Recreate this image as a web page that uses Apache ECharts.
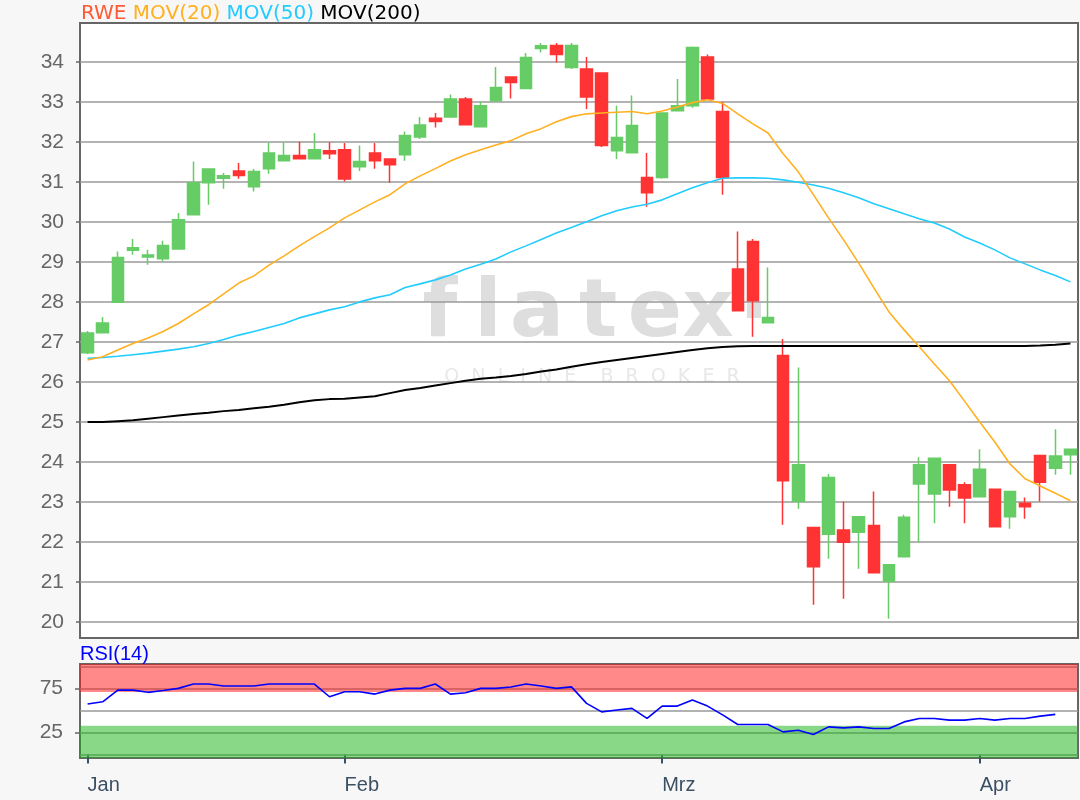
<!DOCTYPE html>
<html><head><meta charset="utf-8">
<script src="https://cdn.jsdelivr.net/npm/echarts@6.0.0/dist/echarts.min.js"></script>
<style>html,body{margin:0;padding:0;background:#f7f7f7}#c{width:1080px;height:800px}</style>
</head><body><div id="c"></div><script>
const dates = [
 '2020-01-09','2020-01-10','2020-01-13','2020-01-14','2020-01-15','2020-01-16','2020-01-17','2020-01-20','2020-01-21','2020-01-22','2020-01-23','2020-01-24','2020-01-27','2020-01-28','2020-01-29','2020-01-30','2020-01-31',
 '2020-02-03','2020-02-04','2020-02-05','2020-02-06','2020-02-07','2020-02-10','2020-02-11','2020-02-12','2020-02-13','2020-02-14','2020-02-17','2020-02-18','2020-02-19','2020-02-20','2020-02-21','2020-02-24','2020-02-25','2020-02-26','2020-02-27','2020-02-28',
 '2020-03-02','2020-03-03','2020-03-04','2020-03-05','2020-03-06','2020-03-09','2020-03-10','2020-03-11','2020-03-12','2020-03-13','2020-03-16','2020-03-17','2020-03-18','2020-03-19','2020-03-20','2020-03-23','2020-03-24','2020-03-25','2020-03-26','2020-03-27','2020-03-30','2020-03-31',
 '2020-04-01','2020-04-02','2020-04-03','2020-04-06','2020-04-07','2020-04-08','2020-04-09'];
const openP  = [26.73,27.23,27.99,29.29,29.12,29.08,29.32,30.18,30.98,31.09,31.27,30.88,31.33,31.53,31.66,31.58,31.78,31.80,31.38,31.72,31.57,31.68,32.12,32.59,32.62,33.07,32.38,33.03,33.62,33.33,34.33,34.41,33.86,33.82,33.72,31.78,31.73,31.11,31.11,32.78,32.90,34.12,32.76,28.82,29.51,27.48,26.66,23.02,22.36,22.19,22.30,22.24,22.41,21.02,21.63,23.45,23.20,23.93,23.43,23.13,23.32,22.63,22.97,24.16,23.84,24.18];
const closeP = [27.22,27.47,29.11,29.35,29.17,29.41,30.05,30.98,31.32,31.15,31.16,31.26,31.72,31.66,31.58,31.80,31.70,31.07,31.51,31.53,31.43,32.16,32.42,32.51,33.07,32.43,32.90,33.36,33.48,34.11,34.40,34.18,34.41,33.12,31.91,32.11,32.41,30.73,32.72,32.90,34.36,33.07,31.11,27.78,28.03,27.61,23.53,23.93,21.38,23.61,21.99,22.63,21.23,21.43,22.62,23.93,24.09,23.30,23.10,23.82,22.38,23.26,22.88,23.49,24.15,24.32];
const lowP   = [26.70,27.23,27.99,29.18,28.93,29.01,29.32,30.18,30.43,30.83,31.08,30.76,31.20,31.53,31.58,31.58,31.57,31.01,31.27,31.33,30.98,31.53,32.07,32.36,32.62,32.43,32.38,33.03,33.08,33.33,34.23,33.98,33.82,32.82,31.87,31.57,31.73,30.38,31.08,32.78,32.85,33.07,30.68,27.78,27.13,27.48,22.43,22.83,20.43,21.58,20.58,21.33,21.23,20.08,21.63,21.99,22.47,22.88,22.47,23.13,22.38,22.33,22.58,23.01,23.68,23.68];
const highP  = [27.27,27.62,29.26,29.57,29.30,29.53,30.22,31.51,31.33,31.22,31.47,31.32,31.99,31.99,32.00,32.22,31.99,31.97,31.91,31.97,31.58,32.26,32.62,32.72,33.18,33.12,33.01,33.87,33.62,34.22,34.47,34.47,34.47,34.12,33.74,32.90,33.16,31.72,32.74,33.57,34.38,34.18,33.00,29.76,29.57,28.86,27.07,26.36,22.36,23.70,23.01,22.63,23.26,21.43,22.68,24.12,24.10,23.93,23.49,24.32,23.32,23.26,23.11,24.16,24.82,24.33];
const mov20  = [26.55,26.63,26.80,26.96,27.10,27.26,27.46,27.70,27.93,28.20,28.47,28.65,28.92,29.15,29.40,29.63,29.85,30.10,30.30,30.50,30.68,30.95,31.15,31.33,31.52,31.68,31.80,31.92,32.03,32.20,32.33,32.50,32.63,32.70,32.72,32.74,32.76,32.70,32.77,32.87,32.98,33.05,32.96,32.70,32.45,32.22,31.70,31.25,30.68,30.10,29.55,28.97,28.35,27.75,27.30,26.88,26.45,26.03,25.52,25.00,24.50,23.95,23.58,23.40,23.22,23.03];
const mov50  = [26.59,26.61,26.64,26.68,26.72,26.77,26.82,26.88,26.96,27.06,27.17,27.26,27.36,27.46,27.60,27.70,27.80,27.88,28.00,28.10,28.18,28.36,28.45,28.55,28.67,28.82,28.94,29.07,29.25,29.40,29.56,29.72,29.86,30.00,30.15,30.28,30.37,30.44,30.55,30.70,30.85,30.98,31.09,31.10,31.10,31.09,31.05,30.99,30.92,30.84,30.73,30.60,30.45,30.33,30.20,30.08,29.97,29.82,29.62,29.47,29.30,29.10,28.95,28.80,28.66,28.50];
const mov200 = [25.00,25.00,25.02,25.04,25.08,25.12,25.16,25.20,25.23,25.27,25.30,25.34,25.38,25.43,25.49,25.54,25.57,25.58,25.61,25.64,25.72,25.80,25.85,25.91,25.97,26.03,26.08,26.11,26.15,26.20,26.26,26.31,26.38,26.44,26.50,26.55,26.60,26.65,26.70,26.75,26.80,26.84,26.87,26.89,26.90,26.90,26.90,26.90,26.90,26.90,26.90,26.90,26.90,26.90,26.90,26.90,26.90,26.90,26.90,26.90,26.90,26.90,26.90,26.91,26.93,26.96];
const rsi14  = [57.2,59.8,73,73,70.5,72.5,75,79.9,79.9,77.6,77.6,77.6,79.9,79.9,79.9,79.9,65.5,71.1,71.1,68.5,73,75,75,79.9,68.5,70,75,75,76.5,79.9,77.6,75,76.7,58,48.4,50.5,52.3,40.9,54.9,54.9,61.7,54.9,45,34.1,34.1,34.1,25.7,27.6,22.7,31.4,30.2,31.4,29.5,29.5,37,40.9,40.9,39,39,40.9,39,40.9,40.9,43.5,45.5];
const priceTicks = [20,21,22,23,24,25,26,27,28,29,30,31,32,33,34];
const rsiTicks = [25,75];
const rsiLines = [0,25,50,75,100];
const rsiOverbought = [71,102.6];
const rsiOversold = [-3.9,32.5];
const monthTickIdx = [0,17,38,59];
const monthLabels = ['Jan','Feb','Mrz','Apr'];
const watermarkLetters = ['f','l','a','t','e','x','.'];

const FONT = '"Liberation Sans", Arial, sans-serif';
const LFONT = '"DejaVu Sans", Verdana, sans-serif';
const chart = echarts.init(document.getElementById('c'), null, {renderer:'canvas'});
const ohlc = dates.map((d,i)=>[openP[i], closeP[i], lowP[i], highP[i]]);

// decorative watermark letter placement
const wmX = [440, 488, 537, 598, 655, 708, 754];
const wmY = [315, 315, 315, 315, 315, 315, 297];
const graphics = watermarkLetters.map((ch,i)=>({type:'text', z:1, silent:true,
  style:{text:ch, x:wmX[i], y:wmY[i], font:'bold 80px "DejaVu Sans"', fill:'#dedede', align:'center', verticalAlign:'middle'}}));
graphics.push({type:'text', z:1, silent:true, style:{text:'O  N  L  I  N  E    B  R  O  K  E  R', x:592, y:377, font:'19px "DejaVu Sans"', fill:'#e8e8e8', align:'center', verticalAlign:'middle'}});

const option = {
  animation:false,
  backgroundColor:'#f7f7f7',
  textStyle:{fontFamily:FONT},
  title:[
    {left:81, top:4, padding:0, text:'{r|RWE} {o|MOV(20)} {c|MOV(50)} {k|MOV(200)}',
     textStyle:{fontSize:20, fontWeight:'normal', fontFamily:LFONT,
       rich:{r:{color:'#ff5a36',fontSize:20,fontFamily:LFONT}, o:{color:'#ffb020',fontSize:20,fontFamily:LFONT},
             c:{color:'#22ccff',fontSize:20,fontFamily:LFONT}, k:{color:'#000',fontSize:20,fontFamily:LFONT}}}},
    {left:80, top:644, padding:0, text:'RSI(14)', textStyle:{fontSize:20, fontWeight:'normal', color:'#0000ff', fontFamily:FONT}}
  ],
  graphic:graphics,
  grid:[
    {left:80,right:2,top:23,bottom:162, show:true, backgroundColor:'#ffffff', borderColor:'#666', borderWidth:2},
    {left:80,right:2,top:664,bottom:42, show:true, backgroundColor:'#ffffff', borderColor:'#666', borderWidth:2}
  ],
  xAxis:[
    {type:'category', gridIndex:0, data:dates, boundaryGap:true, axisLine:{show:false}, axisTick:{show:false}, axisLabel:{show:false}, splitLine:{show:false}},
    {type:'category', gridIndex:1, data:dates, boundaryGap:true, axisLine:{show:false},
     axisTick:{show:true, alignWithLabel:true, interval:(i)=>monthTickIdx.includes(i), length:9, lineStyle:{color:'#3c5064', width:2}},
     axisLabel:{interval:(i)=>monthTickIdx.includes(i), formatter:(v,i)=>monthLabels[monthTickIdx.indexOf(i)] || '', align:'left', margin:17, fontSize:20, color:'#3c5064', fontFamily:FONT},
     splitLine:{show:false}}
  ],
  yAxis:[
    {type:'value', gridIndex:0, min:19.6, max:34.97, axisLine:{show:false},
     axisTick:{show:true, length:4, customValues:priceTicks, lineStyle:{color:'#666', width:1.5}},
     axisLabel:{customValues:priceTicks, fontSize:21, color:'#666', margin:16, fontFamily:FONT},
     splitLine:{show:false}},
    {type:'value', gridIndex:1, min:-3.9, max:102.6, axisLine:{show:false},
     axisTick:{show:true, length:5, customValues:rsiTicks, lineStyle:{color:'#666', width:1.5}},
     axisLabel:{customValues:rsiTicks, fontSize:21, color:'#666', margin:17, fontFamily:FONT},
     splitLine:{show:false}}
  ],
  series:[
    {type:'candlestick', name:'RWE', xAxisIndex:0, yAxisIndex:0, data:ohlc, barWidth:12, z:3,
     itemStyle:{color:'#66cc66', color0:'#ff3333', borderColor:'#66cc66', borderColor0:'#ff3333', borderWidth:1.5},
     markLine:{silent:true, z:2, symbol:['none','none'], label:{show:false}, animation:false,
       lineStyle:{color:'#9a9a9a', width:1.5, type:'solid'}, emphasis:{disabled:true},
       data:priceTicks.map(v=>({yAxis:v}))}},
    {type:'line', name:'MOV(200)', xAxisIndex:0, yAxisIndex:0, data:mov200, showSymbol:false, z:4, lineStyle:{color:'#000', width:2}, itemStyle:{color:'#000'}},
    {type:'line', name:'MOV(50)', xAxisIndex:0, yAxisIndex:0, data:mov50, showSymbol:false, z:4, lineStyle:{color:'#22ccff', width:1.6}, itemStyle:{color:'#22ccff'}},
    {type:'line', name:'MOV(20)', xAxisIndex:0, yAxisIndex:0, data:mov20, showSymbol:false, z:4, lineStyle:{color:'#ffb020', width:1.6}, itemStyle:{color:'#ffb020'}},
    {type:'line', name:'RSI(14)', xAxisIndex:1, yAxisIndex:1, data:rsi14, showSymbol:false, z:5, lineStyle:{color:'#0000ff', width:1.6}, itemStyle:{color:'#0000ff'},
     markLine:{silent:true, z:1, symbol:['none','none'], label:{show:false}, animation:false,
       lineStyle:{color:'#999', width:1.5, type:'solid'}, emphasis:{disabled:true},
       data:rsiLines.map(v=>({yAxis:v}))},
     markArea:{silent:true, z:2, label:{show:false}, emphasis:{disabled:true},
       data:[
         [{yAxis:rsiOverbought[0], itemStyle:{color:'rgba(255,17,17,0.5)'}},{yAxis:rsiOverbought[1]}],
         [{yAxis:rsiOversold[0], itemStyle:{color:'rgba(17,177,17,0.5)'}},{yAxis:rsiOversold[1]}]
       ]}}
  ]
};
chart.setOption(option);
</script></body></html>
